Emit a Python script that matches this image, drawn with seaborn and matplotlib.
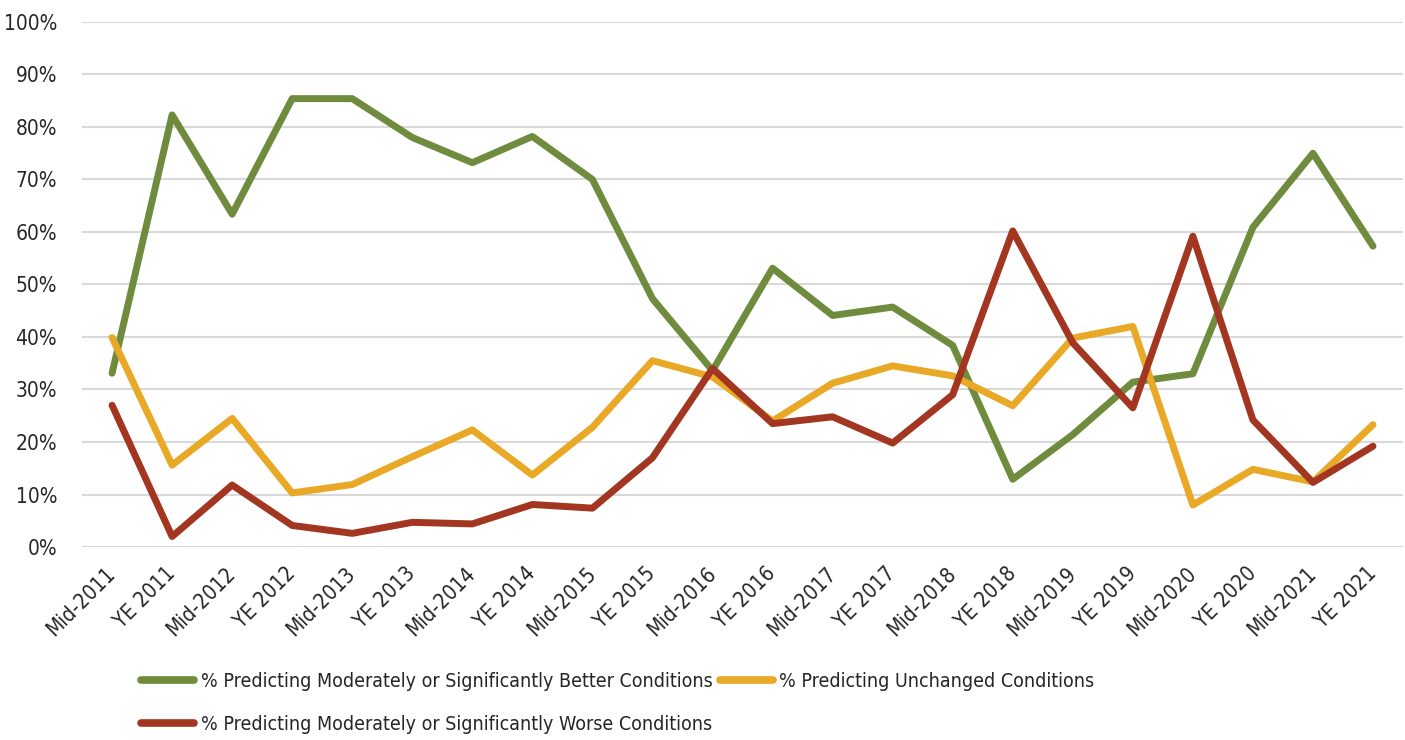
import matplotlib
matplotlib.use("Agg")
import matplotlib.pyplot as plt
from matplotlib.ticker import PercentFormatter
import pandas as pd
import seaborn as sns

periods = ["Mid-2011", "YE 2011", "Mid-2012", "YE 2012", "Mid-2013", "YE 2013",
           "Mid-2014", "YE 2014", "Mid-2015", "YE 2015", "Mid-2016", "YE 2016",
           "Mid-2017", "YE 2017", "Mid-2018", "YE 2018", "Mid-2019", "YE 2019",
           "Mid-2020", "YE 2020", "Mid-2021", "YE 2021"]

better = [33.1, 82.3, 63.4, 85.4, 85.4, 78.0, 73.2, 78.2, 70.0, 47.3, 33.6, 53.1,
          44.1, 45.7, 38.4, 12.9, 21.4, 31.4, 33.0, 60.9, 75.0, 57.3]
unchanged = [39.9, 15.6, 24.5, 10.3, 11.9, 17.2, 22.3, 13.7, 22.8, 35.5, 32.4, 24.0,
             31.2, 34.5, 32.6, 26.9, 39.8, 42.0, 8.0, 14.8, 12.4, 23.3]
worse = [27.0, 2.0, 11.8, 4.1, 2.6, 4.7, 4.4, 8.1, 7.4, 17.0, 34.0, 23.5,
         24.8, 19.8, 29.0, 60.2, 38.9, 26.5, 59.2, 24.2, 12.3, 19.2]

series_names = ["% Predicting Moderately or Significantly Better Conditions",
                "% Predicting Unchanged Conditions",
                "% Predicting Moderately or Significantly Worse Conditions"]
series_colors = ["#6F8B3E", "#E9A825", "#A23621"]

wide = pd.DataFrame({"Period": periods,
                     series_names[0]: better,
                     series_names[1]: unchanged,
                     series_names[2]: worse})
long = wide.melt(id_vars="Period", var_name="Series", value_name="Pct")

sns.set_theme(style="white")
plt.rcParams["font.family"] = ["DejaVu Sans"]
plt.rcParams["font.stretch"] = "condensed"

fig = plt.figure(figsize=(14.05, 7.40), dpi=100)
ax = fig.add_axes([0.0584, 0.2608, 0.9402, 0.7095])

sns.lineplot(data=long, x="Period", y="Pct", hue="Series",
             hue_order=series_names, palette=series_colors,
             sort=False, linewidth=5.0, ax=ax, legend=False)
for ln in ax.get_lines():
    ln.set_solid_capstyle("round")
    ln.set_solid_joinstyle("round")
    ln.set_zorder(3)

ax.set_xlim(-0.5, len(periods) - 0.5)
ax.set_ylim(0, 100)
ax.set_yticks(range(0, 101, 10))
ax.yaxis.set_major_formatter(PercentFormatter(decimals=0))
ax.grid(axis="y", color="#D9D9D9", linewidth=1.5, zorder=0)
ax.grid(axis="x", visible=False)
for s in ax.spines.values():
    s.set_visible(False)
ax.tick_params(axis="both", length=0, labelsize=15, colors="#262626")
ax.tick_params(axis="y", pad=18)
ax.set_xticks(range(len(periods)))
ax.set_xticklabels(periods, rotation=45, ha="right", va="center",
                   rotation_mode="anchor")
ax.tick_params(axis="x", pad=17)
ax.set_xlabel("")
ax.set_ylabel("")

# legend: handles ordered so rows read Better, Unchanged / Worse
handles = [plt.Line2D([], [], color=c, linewidth=5.5, solid_capstyle="round")
           for c in series_colors]
order = [0, 2, 1]
fig.legend([handles[i] for i in order], [series_names[i] for i in order],
           ncol=2, loc="upper left", bbox_to_anchor=(0.095, 0.102),
           frameon=False, fontsize=14, handlelength=2.7, handletextpad=0.35,
           columnspacing=0.4, labelspacing=1.2, labelcolor="#262626",
           borderaxespad=0)

fig.savefig("out.png", dpi=100)
